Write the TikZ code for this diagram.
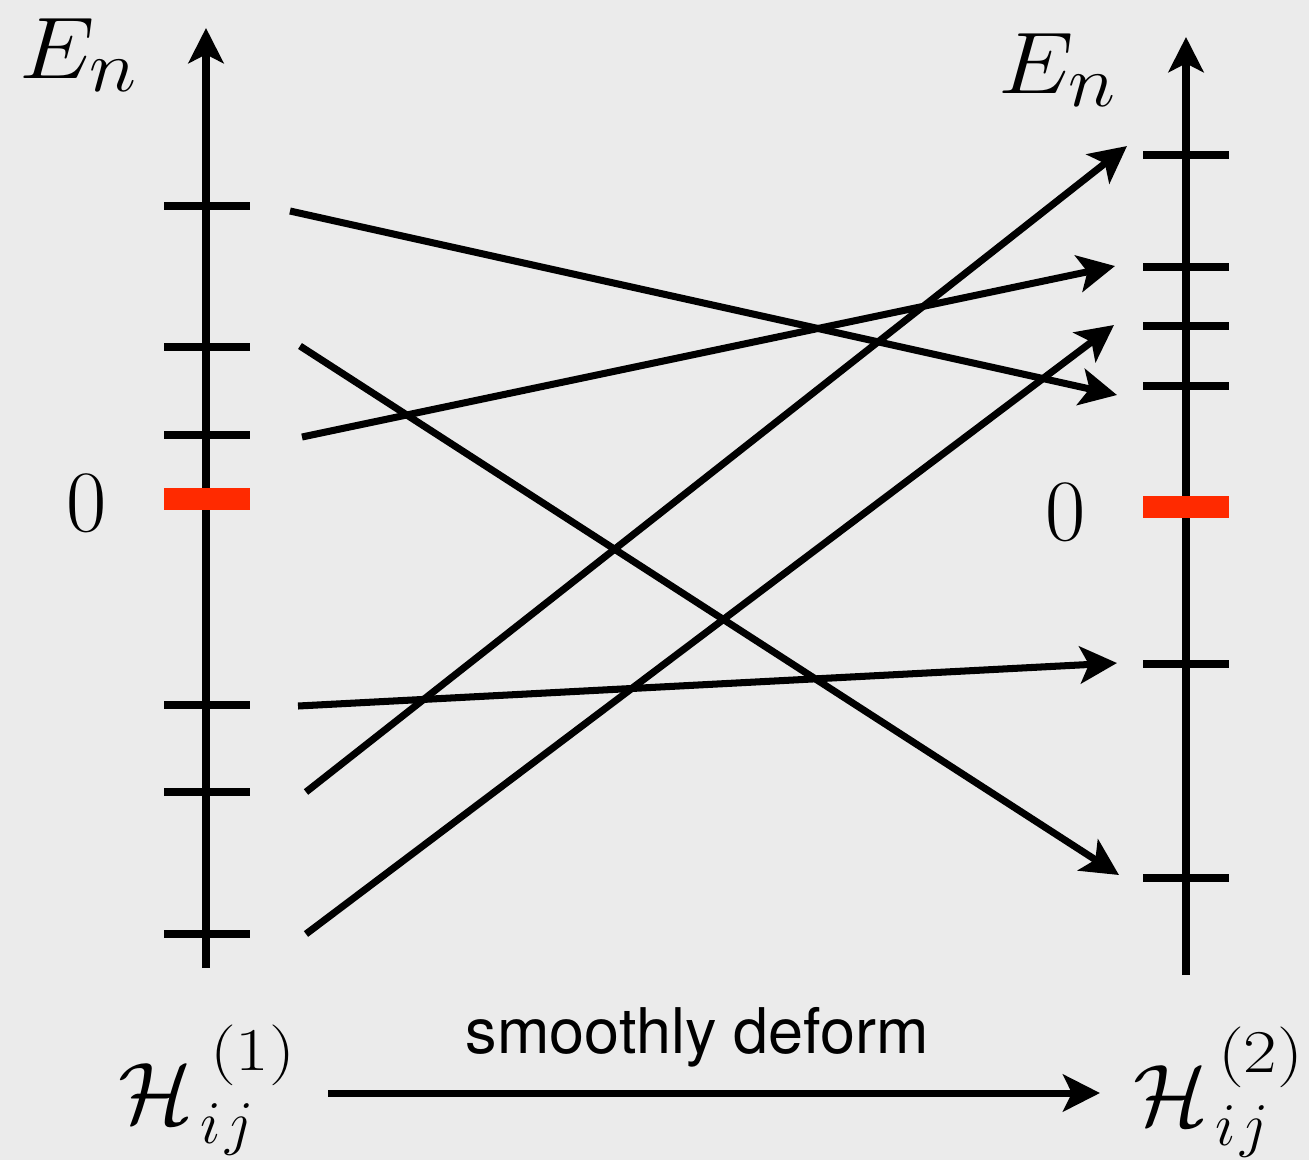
\documentclass[tikz,border=0pt]{standalone}
\usepackage{fontspec}
\newfontfamily\labelsans{TeX Gyre Heros}
\usetikzlibrary{arrows.meta}
\definecolor{bggray}{HTML}{EBEBEB}
\definecolor{zerored}{HTML}{FF2A00}
% #1 superscript digit, #2 offset of the subscript, #3 offset of the superscript
\newcommand\hamlabel[3]{%
  \fontsize{32}{36}\selectfont\rlap{$\mathcal{H}$}%
  \rlap{\hspace{#2}\raisebox{-5.7pt}{\fontsize{19}{22}\selectfont$i\kern1.3pt j$}}%
  \hspace{#3}\raisebox{15pt}{\scalebox{1.2}[1]{\fontsize{19}{22}\selectfont$(#1)$}}}
\newcommand\energylabel{\scalebox{1.1}[1]{\fontsize{27.8}{32}\selectfont$E_n$}}
\begin{document}
\begin{tikzpicture}[x=0.01cm,y=-0.01cm,
  axisline/.style={line width=2.3pt,-{Stealth[length=10pt,width=10pt,inset=2.5pt]}},
  tickline/.style={line width=2.2pt},
  zeroline/.style={line width=6pt,draw=zerored},
  conn/.style={line width=2pt,-{Stealth[length=10.5pt,width=10.5pt,inset=2.5pt]}},
  elab/.style={inner sep=0pt, anchor=base west},
  zlab/.style={font=\fontsize{27}{31}\selectfont, inner sep=0pt, anchor=base},
  hlab/.style={inner sep=0pt, anchor=base west},
  sanslab/.style={font=\labelsans\fontsize{17.9}{21}\selectfont, inner sep=0pt}]
\fill[bggray] (0,0) rectangle (1309,1160);
\useasboundingbox (0,0) rectangle (1309,1160);
% axes
\coordinate (Lbot) at (206,968);
\coordinate (Ltop) at (206,28);
\coordinate (Rbot) at (1186,975);
\coordinate (Rtop) at (1186,37);
\draw[axisline] (Lbot) -- (Ltop);
\draw[axisline] (Rbot) -- (Rtop);
% left ticks
\foreach \n/\y in {a/206,b/347,c/435,d/705,e/792,f/934}{
  \coordinate (L\n1) at (164,\y);
  \coordinate (L\n2) at (250,\y);
  \draw[tickline] (L\n1) -- (L\n2);
}
\coordinate (Lz1) at (164,499);
\coordinate (Lz2) at (250,499);
\draw[zeroline] (Lz1) -- (Lz2);
% right ticks
\foreach \n/\y in {a/155,b/267,c/326,d/386,e/664,f/878}{
  \coordinate (R\n1) at (1143,\y);
  \coordinate (R\n2) at (1229,\y);
  \draw[tickline] (R\n1) -- (R\n2);
}
\coordinate (Rz1) at (1143,507);
\coordinate (Rz2) at (1229,507);
\draw[zeroline] (Rz1) -- (Rz2);
% connector ends
\coordinate (s1) at (290,211);  \coordinate (t1) at (1117,395);
\coordinate (s2) at (300,346);  \coordinate (t2) at (1119,875);
\coordinate (s3) at (302,437);  \coordinate (t3) at (1115,266);
\coordinate (s4) at (298,706);  \coordinate (t4) at (1117,663);
\coordinate (s5) at (306,792);  \coordinate (t5) at (1127,146);
\coordinate (s6) at (306,934);  \coordinate (t6) at (1114,325);
\foreach \i in {1,...,6}{\draw[conn] (s\i) -- (t\i);}
% labels
\node[elab] (EL) at (19,78) {\energylabel};
\node[elab] (ER) at (998,93) {\energylabel};
\node[zlab] (ZL) at (86.5,531) {$0$};
\node[zlab] (ZR) at (1065.5,540) {$0$};
\node[hlab] (H1) at (118,1123) {\hamlabel{1}{23.3pt}{26pt}};
\node[hlab] (H2) at (1133,1125) {\hamlabel{2}{23.3pt}{24pt}};
\coordinate (ba) at (328,1093);
\coordinate (bb) at (1100,1093);
\draw[conn] (ba) -- (bb);
\node[sanslab, anchor=base] (SD) at (697.5,1053) {smoothly deform};
\end{tikzpicture}
\end{document}
